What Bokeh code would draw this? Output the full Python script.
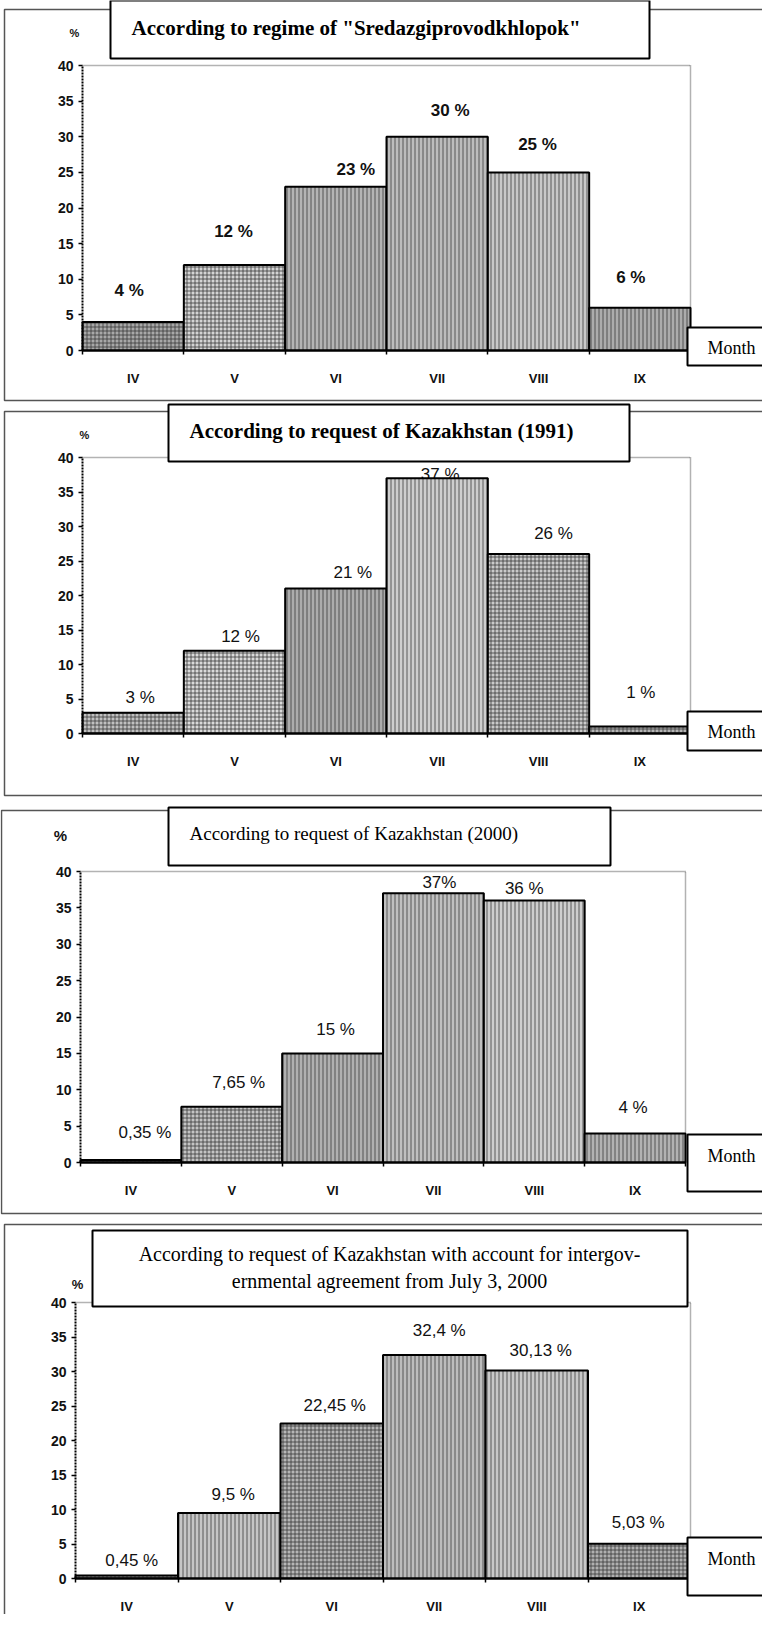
from bokeh.plotting import figure
from bokeh.layouts import column
from bokeh.models import ColumnDataSource, Range1d, FixedTicker, Label, BoxAnnotation
from bokeh.core.properties import value
from bokeh.embed import file_html
from bokeh.resources import INLINE

# ---------------- data ----------------
months = ["IV", "V", "VI", "VII", "VIII", "IX"]
y_ticks = [0, 5, 10, 15, 20, 25, 30, 35, 40]

title_regime = 'According to regime of "Sredazgiprovodkhlopok"'
regime_values = [4, 12, 23, 30, 25, 6]
regime_labels = ["4 %", "12 %", "23 %", "30 %", "25 %", "6 %"]

title_kz1991 = "According to request of Kazakhstan (1991)"
kz1991_values = [3, 12, 21, 37, 26, 1]
kz1991_labels = ["3 %", "12 %", "21 %", "37 %", "26 %", "1 %"]

title_kz2000 = "According to request of Kazakhstan (2000)"
kz2000_values = [0.35, 7.65, 15, 37, 36, 4]
kz2000_labels = ["0,35 %", "7,65 %", "15 %", "37%", "36 %", "4 %"]

title_agr = ("According to request of Kazakhstan with account for intergov-\n"
             "ernmental agreement from July 3, 2000")
agr_values = [0.45, 9.5, 22.45, 32.4, 30.13, 5.03]
agr_labels = ["0,45 %", "9,5 %", "22,45 %", "32,4 %", "30,13 %", "5,03 %"]

axis_unit = "%"
x_unit = "Month"

# ---------------- layout / style ----------------
SANS = "Liberation Sans"
SERIF = "Liberation Serif"
PAGE_W = 762
N = len(months)
YMAX = y_ticks[-1]

panels = [
    dict(title=title_regime, values=regime_values, labels=regime_labels,
         top=8, h=402, frame=(90, 73, 698, 358), outer=(12, 17, 800, 408),
         tbox=(118, 8, 657, 66), ttext=(139, 35, "left"), tstyle="bold", tsize="21px",
         mbox=(695, 335, 800, 373), mtext=(715, 355), pct=(82, 40, "11px"),
         dx=[-4, -1, 20, 13, -1, -9], dy=[32, 34, 17, 26, 28, 30], lstyle="bold",
         pats=["+", "+", "|", "|", "|", "|"],
         cols=["#a8a8a8", "#d4d4d4", "#b4b4b4", "#bcbcbc", "#c8c8c8", "#acacac"]),
    dict(title=title_kz1991, values=kz1991_values, labels=kz1991_labels,
         top=410, h=397, frame=(90, 465, 698, 741), outer=(12, 419, 800, 803),
         tbox=(176, 412, 637, 469), ttext=(197, 438, "left"), tstyle="bold", tsize="21px",
         mbox=(695, 719, 800, 758), mtext=(715, 739), pct=(92, 442, "11px"),
         dx=[7, 6, 17, 3, 15, 1], dy=[15, 14, 16, 4, 21, 34], lstyle="normal",
         pats=["+", "+", "|", "|", "+", "+"],
         cols=["#c0c0c0", "#dadada", "#acacac", "#cecece", "#cacaca", "#b4b4b4"]),
    dict(title=title_kz2000, values=kz2000_values, labels=kz2000_labels,
         top=807, h=420, frame=(88, 879, 693, 1170), outer=(9, 818, 800, 1221),
         tbox=(176, 815, 618, 873), ttext=(197, 841, "left"), tstyle="normal", tsize="19px",
         mbox=(695, 1142, 800, 1199), mtext=(715, 1163), pct=(68, 843, "15px"),
         dx=[14, 7, 3, 6, -10, -2], dy=[27, 24, 24, 11, 12, 26], lstyle="normal",
         pats=["+", "+", "|", "|", "|", "|"],
         cols=["#acacac", "#c4c4c4", "#b0b0b0", "#c0c0c0", "#cecece", "#b2b2b2"]),
    dict(title=title_agr, values=agr_values, labels=agr_labels,
         top=1227, h=395, frame=(83, 1310, 698, 1586), outer=(12, 1232, 800, 1700),
         tbox=(100, 1238, 695, 1314), ttext=(397, 1275, "center"), tstyle="normal", tsize="20px",
         mbox=(695, 1545, 800, 1603), mtext=(715, 1566), pct=(85, 1292, "13px"),
         dx=[5, 4, 3, 5, 4, -1], dy=[15, 18, 18, 24, 20, 21], lstyle="normal",
         pats=["+", "|", "+", "|", "|", "+"],
         cols=["#9c9c9c", "#c6c6c6", "#b6b6b6", "#bcbcbc", "#c8c8c8", "#b0b0b0"]),
]


def make_panel(cfg):
    fl, ft, fr, fb = cfg["frame"]
    top = cfg["top"]
    h = cfg["h"]
    bottom_page = top + h
    u = (fr - fl) / N              # pixels per category
    k = YMAX / (fb - ft)           # data units per pixel (y)
    x_range = Range1d(-(fl - 8) / u, N + (770 - fr) / u)
    y_range = Range1d(-(bottom_page - fb) * k, YMAX + (ft - top) * k)

    p = figure(width=PAGE_W, height=h, output_backend="svg", toolbar_location=None,
               title=None, x_range=x_range, y_range=y_range,
               min_border_left=0, min_border_right=0,
               min_border_top=0, min_border_bottom=0)
    p.background_fill_color = "white"
    p.border_fill_color = "white"
    p.outline_line_color = None
    p.xgrid.visible = False
    p.ygrid.visible = False

    # canvas-pixel -> frame screen coordinates (frame fills the canvas)
    def sx(x):
        return x - 8

    def sy(y):
        return bottom_page - y

    centers = [i + 0.5 for i in range(N)]
    src = ColumnDataSource(dict(
        x=centers, top=cfg["values"], lbl=cfg["labels"],
        dx=cfg["dx"], dy=[-d for d in cfg["dy"]],
        pat=cfg["pats"], col=cfg["cols"]))

    # dotted top / right border of the plotting area
    p.line(x=[0, N, N], y=[YMAX, YMAX, 0], line_color="#666666",
           line_dash="1 1", line_width=1.5)

    # value labels (drawn before bars, as in the original)
    p.text(x="x", y="top", text="lbl", x_offset="dx", y_offset="dy", source=src,
           text_align="center", text_baseline="middle",
           text_font=value(SANS), text_font_size=value("17px"),
           text_font_style=cfg["lstyle"], text_color="#111111")

    p.vbar(x="x", top="top", bottom=0, width=1.0, source=src,
           fill_color="col", line_color="black", line_width=2,
           hatch_pattern="pat", hatch_color="#333333", hatch_scale=4,
           hatch_weight=1, hatch_alpha=0.75)

    # axes, fixed at the plotting area's edges
    yax = p.yaxis[0]
    yax.fixed_location = 0
    yax.bounds = (0, YMAX)
    yax.ticker = FixedTicker(ticks=y_ticks)
    yax.axis_line_width = 2
    yax.axis_line_dash = "2 1"
    yax.major_tick_out = 4
    yax.major_tick_in = 0
    yax.major_tick_line_width = 1.5
    yax.minor_tick_line_color = None
    yax.major_label_standoff = 5
    yax.major_label_text_font = SANS
    yax.major_label_text_font_style = "bold"
    yax.major_label_text_font_size = "14px"
    yax.major_label_text_color = "#111111"

    xax = p.xaxis[0]
    xax.fixed_location = 0
    xax.bounds = (0, N)
    xax.ticker = FixedTicker(ticks=centers, minor_ticks=list(range(N + 1)))
    xax.major_label_overrides = {c: m for c, m in zip(centers, months)}
    xax.axis_line_width = 2
    xax.major_tick_line_color = None
    xax.major_tick_out = 0
    xax.major_tick_in = 0
    xax.minor_tick_out = 4
    xax.minor_tick_in = 0
    xax.minor_tick_line_width = 1.5
    xax.major_label_standoff = 16
    xax.major_label_text_font = SANS
    xax.major_label_text_font_style = "bold"
    xax.major_label_text_font_size = "13px"
    xax.major_label_text_color = "#111111"

    def box(l, t, r, b, fill, lw, lc):
        return BoxAnnotation(left=sx(l), right=sx(r), top=sy(t), bottom=sy(b),
                             left_units="screen", right_units="screen",
                             top_units="screen", bottom_units="screen",
                             fill_color=fill if fill else "white",
                             fill_alpha=1.0 if fill else 0.0,
                             line_color=lc, line_alpha=1.0, line_width=lw)

    ol, ot, orr, ob = cfg["outer"]
    p.add_layout(box(ol, ot, orr, ob, None, 1.5, "#555555"))

    tl, tt, tr, tb = cfg["tbox"]
    p.add_layout(box(tl, tt, tr, tb, "white", 2, "black"))
    tx, ty, talign = cfg["ttext"]
    p.add_layout(Label(x=sx(tx), y=sy(ty), x_units="screen", y_units="screen",
                       text=cfg["title"], text_align=talign, text_baseline="middle",
                       text_font=SERIF, text_font_size=cfg["tsize"],
                       text_font_style=cfg["tstyle"], text_line_height=1.25,
                       text_color="black"))

    ml, mt, mr, mb = cfg["mbox"]
    p.add_layout(box(ml, mt, mr, mb, "white", 2, "black"))
    mx, my = cfg["mtext"]
    p.add_layout(Label(x=sx(mx), y=sy(my), x_units="screen", y_units="screen",
                       text=x_unit, text_align="left", text_baseline="middle",
                       text_font=SERIF, text_font_size="18px", text_color="black"))

    px, py, pfs = cfg["pct"]
    p.add_layout(Label(x=sx(px), y=sy(py), x_units="screen", y_units="screen",
                       text=axis_unit, text_align="center", text_baseline="middle",
                       text_font=SANS, text_font_size=pfs, text_font_style="bold",
                       text_color="#111111"))
    return p


figs = [make_panel(c) for c in panels]
layout = column(*figs, spacing=0)

open("out.html", "w").write(file_html(layout, INLINE))
